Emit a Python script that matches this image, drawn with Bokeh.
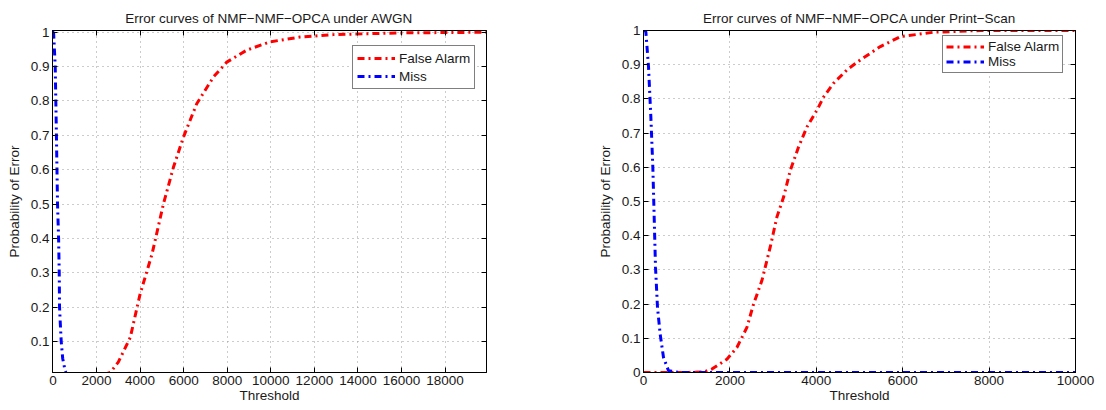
from bokeh.plotting import figure
from bokeh.layouts import row
from bokeh.models import LinearAxis, FixedTicker, Legend, LegendItem, Range1d
from bokeh.embed import file_html
from bokeh.resources import INLINE

# ---- data ----
awgn_fa_x = [0, 1500, 2300, 2630, 3000, 3550, 4000, 4550, 5070, 5530, 5990, 6600, 7370,
             7980, 8900, 9970, 11340, 12870, 15930, 19900]
awgn_fa_y = [0, 0, 0.003, 0.01, 0.04, 0.112, 0.238, 0.355, 0.50, 0.607, 0.695, 0.792, 0.87,
             0.913, 0.948, 0.972, 0.986, 0.993, 0.998, 1.0]
awgn_miss_x = [0, 30, 105, 160, 211, 260, 289, 303, 340, 380, 450, 560, 650, 900, 19900]
awgn_miss_y = [1.0, 1.0, 0.9, 0.7, 0.5, 0.4, 0.3, 0.2, 0.15, 0.1, 0.05, 0.015, 0.0, 0.0, 0.0]

ps_fa_x = [0, 1000, 1400, 1583, 1931, 2162, 2394, 2548, 2741, 2934, 3089, 3243, 3398, 3591,
           3784, 4015, 4170, 4402, 4710, 5019, 5483, 5946, 6718, 7800, 10000]
ps_fa_y = [0, 0, 0.002, 0.01, 0.039, 0.073, 0.132, 0.20, 0.269, 0.367, 0.455, 0.513, 0.591, 0.66,
           0.718, 0.767, 0.806, 0.846, 0.885, 0.914, 0.953, 0.982, 0.995, 1.0, 1.0]
ps_miss_x = [0, 54, 116, 170, 216, 247, 278, 324, 386, 463, 579, 850, 10000]
ps_miss_y = [1.0, 0.997, 0.894, 0.748, 0.601, 0.455, 0.308, 0.19, 0.112, 0.044, 0.005, 0.0, 0.0]

awgn_xticks = [0, 2000, 4000, 6000, 8000, 10000, 12000, 14000, 16000, 18000]
ps_xticks = [0, 2000, 4000, 6000, 8000, 10000]
awgn_yticks = [0.1, 0.2, 0.3, 0.4, 0.5, 0.6, 0.7, 0.8, 0.9, 1.0]
ps_yticks = [0.0, 0.1, 0.2, 0.3, 0.4, 0.5, 0.6, 0.7, 0.8, 0.9, 1.0]

titles = ["Error curves of NMF\u2212NMF\u2212OPCA under AWGN",
          "Error curves of NMF\u2212NMF\u2212OPCA under Print\u2212Scan"]
series_names = ["False Alarm", "Miss"]

FONT = "Liberation Sans"
FS = "13.5px"
TXT = "#1a1a1a"
DASH = "7 4 2 4"


def style_axis(ax, ticks):
    ax.ticker = FixedTicker(ticks=ticks)
    ax.major_tick_in = 5
    ax.major_tick_out = 0
    ax.minor_tick_in = 0
    ax.minor_tick_out = 0
    ax.axis_line_color = "black"
    ax.major_tick_line_color = "black"
    ax.major_label_text_font = FONT
    ax.major_label_text_font_size = FS
    ax.major_label_standoff = 3
    ax.axis_label_text_font = FONT
    ax.axis_label_text_font_style = "normal"
    ax.axis_label_text_font_size = FS
    ax.axis_label_text_color = TXT
    ax.major_label_text_color = TXT


def box_axis(ticks):
    # tick marks only (as minor ticks, which carry no labels)
    ax = LinearAxis(ticker=FixedTicker(ticks=[], minor_ticks=ticks))
    ax.major_tick_in = 0
    ax.major_tick_out = 0
    ax.minor_tick_in = 5
    ax.minor_tick_out = 0
    ax.minor_tick_line_color = "black"
    ax.axis_line_color = "black"
    ax.major_label_standoff = 0
    return ax


def make_plot(title, xr, yr, xticks, yticks, fa_x, fa_y, miss_x, miss_y,
              width, bl, br, legend_xy, pad, gh, sp):
    p = figure(width=width, height=410, output_backend="svg", toolbar_location=None,
               x_range=Range1d(*xr), y_range=Range1d(*yr),
               min_border_left=bl, min_border_right=br, min_border_top=30,
               min_border_bottom=38, x_axis_label="Threshold",
               y_axis_label="Probability of Error")
    p.title.text = title
    p.title.text_font = FONT
    p.title.text_font_size = FS
    p.title.text_font_style = "normal"
    p.title.align = "center"
    p.title.text_color = TXT
    p.outline_line_color = "black"
    p.outline_line_alpha = 1.0

    style_axis(p.xaxis[0], xticks)
    style_axis(p.yaxis[0], yticks)
    p.xaxis[0].axis_label_standoff = 0
    p.yaxis[0].axis_label_standoff = 6
    p.yaxis[0].major_label_overrides = {1.0: "1", 0.0: "0"}
    p.xaxis[0].major_label_overrides = {0: "0"}

    p.add_layout(box_axis(xticks), "above")
    p.add_layout(box_axis(yticks), "right")

    for g in (p.xgrid[0], p.ygrid[0]):
        g.grid_line_color = "#999999"
        g.grid_line_dash = "1 4"
        g.grid_line_width = 1
    p.xgrid[0].ticker = FixedTicker(ticks=xticks)
    p.ygrid[0].ticker = FixedTicker(ticks=yticks)

    r1 = p.line(fa_x, fa_y, line_color="#ff0000", line_width=3, line_dash=DASH)
    r2 = p.line(miss_x, miss_y, line_color="#0000ff", line_width=3, line_dash=DASH)

    leg = Legend(items=[LegendItem(label=series_names[0], renderers=[r1]),
                        LegendItem(label=series_names[1], renderers=[r2])],
                 location=legend_xy, margin=0, padding=pad, spacing=sp,
                 glyph_width=38, glyph_height=gh, label_height=gh, label_standoff=4,
                 label_text_font=FONT, label_text_font_size=FS,
                 label_text_color=TXT,
                 border_line_color="black", border_line_width=1,
                 background_fill_color="white", background_fill_alpha=1.0)
    p.add_layout(leg, "center")
    return p


p1 = make_plot(titles[0], (-20, 19900), (0.01, 1.005), awgn_xticks, awgn_yticks,
               awgn_fa_x, awgn_fa_y, awgn_miss_x, awgn_miss_y,
               width=553, bl=52, br=67, legend_xy=(300, 283), pad=4, gh=16, sp=2)
p2 = make_plot(titles[1], (0, 10000), (0, 1), ps_xticks, ps_yticks,
               ps_fa_x, ps_fa_y, ps_miss_x, ps_miss_y,
               width=553, bl=90, br=31, legend_xy=(299, 299), pad=3, gh=15, sp=0)

layout = row(p1, p2, spacing=0)
open("out.html", "w").write(file_html(layout, INLINE))
